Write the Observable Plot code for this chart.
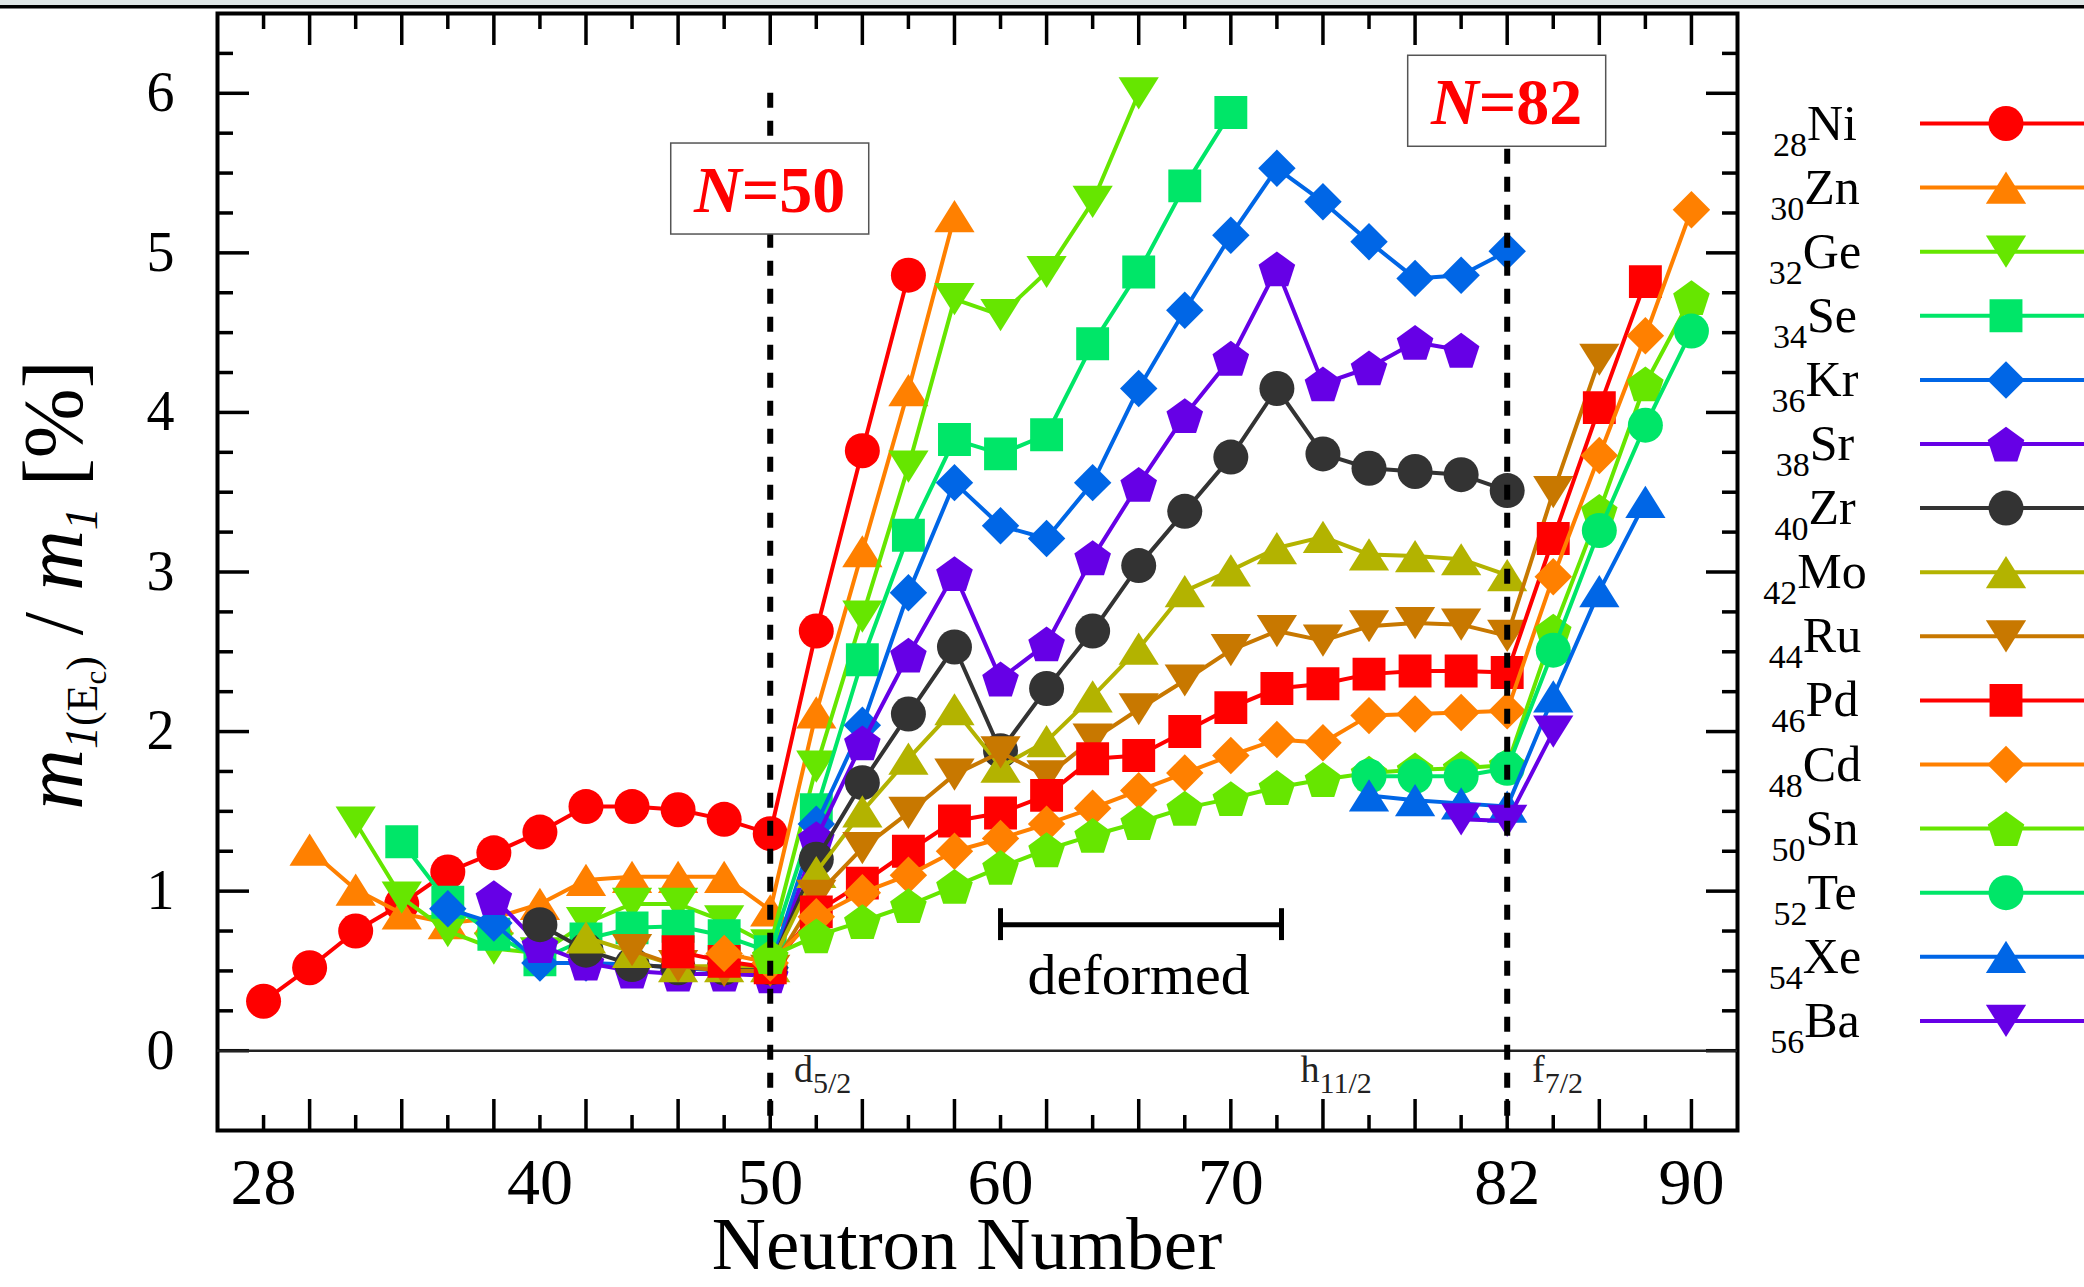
<!DOCTYPE html>
<html>
<head>
<meta charset="utf-8">
<script src="https://cdn.jsdelivr.net/npm/d3@7"></script>
<script src="https://cdn.jsdelivr.net/npm/@observablehq/plot@0.6"></script>
<style>
  html, body { margin: 0; padding: 0; background: #fff; overflow: hidden; }
  #chart { width: 2084px; height: 1287px; }
  text { white-space: pre; }
</style>
</head>
<body>
<div id="chart"></div>
<script>
// ---------------- data ----------------
const _ = null;
const neutrons = [28,30,32,34,36,38,40,42,44,46,48,50,52,54,56,58,60,62,64,66,68,70,72,74,76,78,80,82,84,86,88,90];

const elements = ["Ni","Zn","Ge","Se","Kr","Sr","Zr","Mo","Ru","Pd","Cd","Sn","Te","Xe","Ba"];
const protons  = [28,30,32,34,36,38,40,42,44,46,48,50,52,54,56];
const colors   = ["#ff0000","#ff8000","#66e600","#00e668","#0066e6","#6600e6","#333333","#b3b300","#c87800","#ff0000","#ff8000","#66e600","#00e668","#0066e6","#6600e6"];
const shapes   = ["circle","up","down","square","diamond","pentagon","circle","up","down","square","diamond","pentagon","circle","up","down"];

//            28   30   32   34   36   38   40   42   44   46   48   50   52   54   56   58   60   62   64   66   68   70   72   74   76   78   80   82   84   86   88   90
const ni = [0.31,0.52,0.75,0.92,1.12,1.24,1.37,1.53,1.53,1.51,1.45,1.36,2.63,3.76,4.86,_,_,_,_,_,_,_,_,_,_,_,_,_,_,_,_,_];
const zn = [_,1.26,1.01,0.86,0.80,0.83,0.92,1.07,1.09,1.09,1.09,0.88,2.12,3.13,4.14,5.23,_,_,_,_,_,_,_,_,_,_,_,_,_,_,_,_];
const ge = [_,_,1.43,0.96,0.75,0.64,0.61,0.80,0.92,0.92,0.81,0.66,1.78,2.72,3.66,4.71,4.61,4.88,5.32,6.00,_,_,_,_,_,_,_,_,_,_,_,_];
const se = [_,_,_,1.31,0.93,0.73,0.57,0.70,0.77,0.78,0.72,0.62,1.51,2.45,3.23,3.83,3.74,3.86,4.43,4.88,5.42,5.88,_,_,_,_,_,_,_,_,_,_];
const kr = [_,_,_,_,0.89,0.80,0.55,0.55,0.54,0.52,0.50,0.52,1.42,2.04,2.87,3.56,3.29,3.21,3.56,4.15,4.64,5.11,5.53,5.32,5.07,4.84,4.86,5.01,_,_,_,_];
const sr = [_,_,_,_,_,0.96,0.66,0.55,0.50,0.48,0.48,0.47,1.33,1.93,2.48,2.99,2.33,2.55,3.09,3.55,3.98,4.34,4.90,4.18,4.28,4.44,4.39,_,_,_,_,_];
const zr = [_,_,_,_,_,_,0.79,0.63,0.54,0.52,0.52,0.52,1.20,1.68,2.11,2.53,1.88,2.27,2.63,3.04,3.38,3.72,4.15,3.74,3.65,3.63,3.61,3.51,_,_,_,_];
const mo = [_,_,_,_,_,_,_,0.71,0.62,0.53,0.53,0.53,1.12,1.50,1.83,2.14,1.78,1.94,2.22,2.52,2.88,3.01,3.15,3.22,3.11,3.10,3.08,2.98,_,_,_,_];
const ru = [_,_,_,_,_,_,_,_,0.63,0.53,0.50,0.50,0.97,1.27,1.49,1.73,1.87,1.72,1.95,2.14,2.32,2.51,2.63,2.57,2.66,2.68,2.67,2.60,3.50,4.33,_,_];
const pd = [_,_,_,_,_,_,_,_,_,0.62,0.56,0.52,0.87,1.05,1.25,1.44,1.49,1.60,1.83,1.85,2.00,2.15,2.27,2.30,2.36,2.38,2.38,2.37,3.21,4.03,4.82,_];
const cd = [_,_,_,_,_,_,_,_,_,_,0.61,0.55,0.84,0.99,1.10,1.25,1.33,1.42,1.52,1.63,1.74,1.85,1.95,1.93,2.10,2.11,2.12,2.13,2.97,3.73,4.48,5.27];
const sn = [_,_,_,_,_,_,_,_,_,_,_,0.59,0.72,0.81,0.91,1.03,1.15,1.26,1.35,1.43,1.52,1.58,1.65,1.70,1.74,1.76,1.77,1.79,2.63,3.38,4.18,4.72];
const te = [_,_,_,_,_,_,_,_,_,_,_,_,_,_,_,_,_,_,_,_,_,_,_,_,1.72,1.72,1.72,1.77,2.51,3.26,3.92,4.51];
const xe = [_,_,_,_,_,_,_,_,_,_,_,_,_,_,_,_,_,_,_,_,_,_,_,_,1.60,1.57,1.55,1.53,2.22,2.88,3.44,_];
const ba = [_,_,_,_,_,_,_,_,_,_,_,_,_,_,_,_,_,_,_,_,_,_,_,_,_,_,1.45,1.44,2.00,_,_,_];

// axis ticks and labels
const xLabels = [28, 40, 50, 60, 70, 82, 90];
const xMajorTicks = [30,34,38,42,46,50,54,58,62,66,70,74,78,82,86,90];
const xMinorTicks = [28,32,36,40,44,48,52,56,60,64,68,72,76,80,84,88];
const yLabels = [0,1,2,3,4,5,6];
const yMinorTicks = [0.25,0.5,0.75,1.25,1.5,1.75,2.25,2.5,2.75,3.25,3.5,3.75,4.25,4.5,4.75,5.25,5.5,5.75,6.25];

// annotations
const closures = [50, 82];
const closureTop = 6;
const closureBoxY = [5.40, 5.95];
const orbitalN = [51.05, 73.05, 83.1];
const orbitalLetter = ["d", "h", "f"];
const orbitalSub = ["5/2", "11/2", "7/2"];
const orbitalY = -0.2;
const deformedRange = [60, 72.2];
const deformedY = 0.79;
const deformedCap = 0.1;
const deformedLabel = [{N: 66, v: 0.47, text: "deformed"}];

// ---------------- symbols ----------------
function symbolFor(kind) {
  return {
    draw(ctx, size) {
      const s = Math.sqrt(size / Math.PI);
      if (kind === "circle") {
        ctx.moveTo(s, 0); ctx.arc(0, 0, s, 0, 2 * Math.PI);
      } else if (kind === "square") {
        const h = 0.94 * s; ctx.rect(-h, -h, 2 * h, 2 * h);
      } else if (kind === "diamond") {
        const h = 1.07 * s;
        ctx.moveTo(0, -h); ctx.lineTo(h, 0); ctx.lineTo(0, h); ctx.lineTo(-h, 0); ctx.closePath();
      } else if (kind === "up") {
        const w = 1.15 * s, hh = 0.92 * s;
        ctx.moveTo(0, -hh); ctx.lineTo(w, hh); ctx.lineTo(-w, hh); ctx.closePath();
      } else if (kind === "down") {
        const w = 1.15 * s, hh = 0.92 * s;
        ctx.moveTo(0, hh); ctx.lineTo(w, -hh); ctx.lineTo(-w, -hh); ctx.closePath();
      } else if (kind === "pentagon") {
        const R = 1.1 * s;
        for (let i = 0; i < 5; i++) {
          const a = -Math.PI / 2 + i * 2 * Math.PI / 5;
          const px = R * Math.cos(a), py = R * Math.sin(a) + 0.1 * R;
          if (i === 0) ctx.moveTo(px, py); else ctx.lineTo(px, py);
        }
        ctx.closePath();
      }
    }
  };
}

const serif = "'Liberation Serif', 'Times New Roman', 'DejaVu Serif', serif";
const markerR = 17.5;
const seriesValues = [ni, zn, ge, se, kr, sr, zr, mo, ru, pd, cd, sn, te, xe, ba];

const seriesMarks = elements.flatMap((el, k) => {
  const rows = neutrons.map((N, i) => ({N, v: seriesValues[k][i], el}))
                       .filter(d => d.v != null);
  return [
    Plot.line(rows, {x: "N", y: "v", stroke: colors[k], strokeWidth: 4}),
    Plot.dot(rows, {x: "N", y: "v", fill: colors[k], r: markerR, symbol: symbolFor(shapes[k])})
  ];
});

const blank = () => "";

const plot = Plot.plot({
  width: 2084,
  height: 1287,
  marginLeft: 217,
  marginRight: 347,
  marginTop: 13,
  marginBottom: 157,
  x: {domain: [26, 92], label: null},
  y: {domain: [-0.5, 6.5], label: null},
  style: {fontFamily: serif, background: "white", color: "black"},
  marks: [
    Plot.frame({stroke: "black", strokeWidth: 4}),
    // inward ticks on all four sides
    Plot.axisX(xMajorTicks, {anchor: "bottom", tickSize: -31, strokeWidth: 3.5, tickFormat: blank, label: null}),
    Plot.axisX(xMinorTicks, {anchor: "bottom", tickSize: -15, strokeWidth: 3.5, tickFormat: blank, label: null}),
    Plot.axisX(xMajorTicks, {anchor: "top", tickSize: -31, strokeWidth: 3.5, tickFormat: blank, label: null}),
    Plot.axisX(xMinorTicks, {anchor: "top", tickSize: -15, strokeWidth: 3.5, tickFormat: blank, label: null}),
    Plot.axisY(yLabels, {anchor: "left", tickSize: -32, strokeWidth: 3.5, tickFormat: blank, label: null}),
    Plot.axisY(yMinorTicks, {anchor: "left", tickSize: -16, strokeWidth: 3.5, tickFormat: blank, label: null}),
    Plot.axisY(yLabels, {anchor: "right", tickSize: -32, strokeWidth: 3.5, tickFormat: blank, label: null}),
    Plot.axisY(yMinorTicks, {anchor: "right", tickSize: -16, strokeWidth: 3.5, tickFormat: blank, label: null}),
    // tick labels
    Plot.axisX(xLabels, {anchor: "bottom", tickSize: 0, tickPadding: 27, fontSize: 66, tickFormat: d3.format("d"), label: null}),
    Plot.axisY(yLabels, {anchor: "left", tickSize: 0, tickPadding: 43, fontSize: 56, tickFormat: d3.format("d"), label: null}),
    // zero line
    Plot.ruleY([0], {stroke: "#222", strokeWidth: 2.5}),
    // series
    ...seriesMarks,
    // shell closures
    Plot.ruleX(closures, {y1: closureTop, y2: -0.5, stroke: "black", strokeWidth: 6, strokeDasharray: "15,13"}),
    // deformed bracket
    Plot.ruleY([deformedY], {x1: deformedRange[0], x2: deformedRange[1], stroke: "black", strokeWidth: 5}),
    Plot.ruleX(deformedRange, {y1: deformedY - deformedCap, y2: deformedY + deformedCap, stroke: "black", strokeWidth: 5}),
    Plot.text(deformedLabel, {x: "N", y: "v", text: "text", fontSize: 58, fill: "black"})
  ]
});

const svg = d3.select(plot);
const xs = plot.scale("x"), ys = plot.scale("y");

// page decoration at the very top
svg.insert("rect", ":first-child").attr("x", 0).attr("y", 0).attr("width", 2084).attr("height", 1287).attr("fill", "white");
svg.append("rect").attr("x", 0).attr("y", 0).attr("width", 2084).attr("height", 5).attr("fill", "#dfe6e6");
svg.append("rect").attr("x", 0).attr("y", 5).attr("width", 2084).attr("height", 3.5).attr("fill", "black");

// N=50 / N=82 boxes
closures.forEach((N, k) => {
  const cx = xs.apply(N), cy = ys.apply(closureBoxY[k]);
  svg.append("rect").attr("x", cx - 99).attr("y", cy - 45.5).attr("width", 198).attr("height", 91)
     .attr("fill", "white").attr("stroke", "#555").attr("stroke-width", 1.5);
  const t = svg.append("text").attr("x", cx).attr("y", cy + 23).attr("text-anchor", "middle")
     .attr("fill", "#ff0000").attr("font-weight", "bold").attr("font-size", 66).attr("font-family", serif);
  t.append("tspan").attr("font-style", "italic").text("N");
  t.append("tspan").text("=" + N);
});

// orbital labels
orbitalN.forEach((N, k) => {
  const t = svg.append("text").attr("x", xs.apply(N)).attr("y", ys.apply(orbitalY))
     .attr("text-anchor", "start").attr("font-family", serif).attr("fill", "#222");
  t.append("tspan").attr("font-size", 38).text(orbitalLetter[k]);
  t.append("tspan").attr("font-size", 30).attr("dy", 11).text(orbitalSub[k]);
});

// axis titles
svg.append("text").attr("x", 967).attr("y", 1269).attr("text-anchor", "middle")
   .attr("font-family", serif).attr("font-size", 75).attr("fill", "black").text("Neutron Number");

const yt = svg.append("text").attr("transform", "translate(82,585) rotate(-90)")
   .attr("text-anchor", "middle").attr("font-family", serif).attr("font-size", 84).attr("fill", "black");
yt.append("tspan").attr("font-style", "italic").text("m");
yt.append("tspan").attr("font-style", "italic").attr("font-size", 46).attr("dy", 15).text("1");
yt.append("tspan").attr("font-size", 44).text("(E");
yt.append("tspan").attr("font-size", 31).attr("dy", 9).text("c");
yt.append("tspan").attr("font-size", 44).attr("dy", -9).text(")");
yt.append("tspan").attr("dy", -15).text(" / ");
yt.append("tspan").attr("font-style", "italic").text("m");
yt.append("tspan").attr("font-style", "italic").attr("font-size", 46).attr("dy", 15).text("1");
yt.append("tspan").attr("dy", -15).text(" [%]");

// legend
const legendTop = 123.5, legendStep = 64.1;
const lg = svg.append("g");
elements.forEach((el, k) => {
  const cy = legendTop + k * legendStep;
  lg.append("line").attr("x1", 1920).attr("x2", 2084).attr("y1", cy).attr("y2", cy)
    .attr("stroke", colors[k]).attr("stroke-width", 4);
  lg.append("path").attr("d", d3.symbol(symbolFor(shapes[k]), Math.PI * markerR * markerR)())
    .attr("transform", `translate(2006,${cy})`).attr("fill", colors[k]);
  const t = lg.append("text").attr("x", 1815).attr("y", cy + 16).attr("text-anchor", "middle")
    .attr("font-family", serif).attr("fill", "black");
  t.append("tspan").attr("font-size", 34).attr("dy", 16).text(protons[k]);
  t.append("tspan").attr("font-size", 50).attr("dy", -16).text(el);
});

document.getElementById("chart").appendChild(plot);
</script>
</body>
</html>
